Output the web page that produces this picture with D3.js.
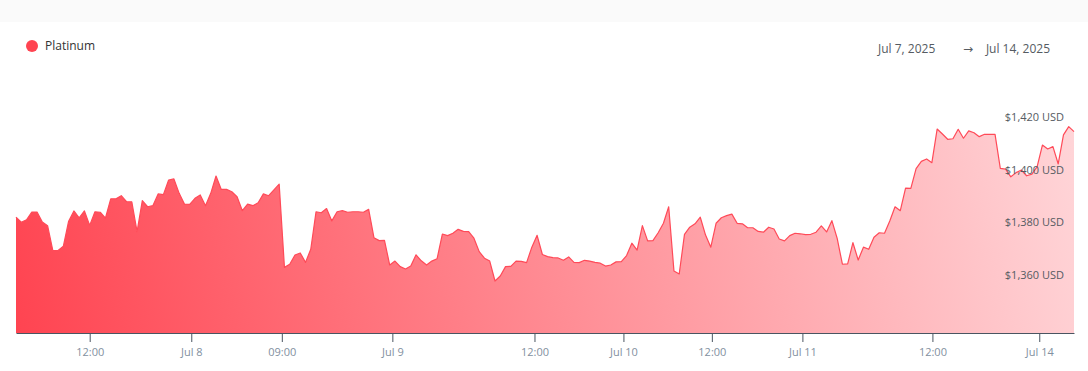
<!DOCTYPE html>
<html>
<head>
<meta charset="utf-8">
<script src="https://cdn.jsdelivr.net/npm/d3@7"></script>
<style>
  body { margin: 0; background: #fff; font-family: "Open Sans", sans-serif; }
  .tick line { stroke: #4a5561; }
  .domain { stroke: #4a5561; }
</style>
</head>
<body>
<script>
var width = 1088;
var height = 371;

var seriesName = 'Platinum';
var startLabel = 'Jul 7, 2025';
var endLabel = 'Jul 14, 2025';

// one value per sample, samples sit at even steps on the x axis
var prices = [
  1382.0, 1380.1, 1381.0, 1384.0, 1384.0, 1380.2, 1378.8, 1369.3, 1369.3, 1371.0,
  1380.5, 1384.4, 1381.8, 1384.4, 1378.9, 1384.1, 1383.9, 1381.7, 1389.0, 1389.0,
  1390.2, 1387.9, 1387.9, 1376.5, 1388.3, 1386.0, 1386.4, 1390.9, 1390.6, 1396.2,
  1396.6, 1391.1, 1387.0, 1386.9, 1389.2, 1390.5, 1386.4, 1391.1, 1397.7, 1392.6,
  1392.6, 1391.7, 1389.8, 1384.5, 1387.0, 1386.4, 1387.5, 1390.9, 1390.2, 1392.4,
  1394.6, 1362.9, 1364.1, 1367.6, 1368.4, 1364.8, 1369.8, 1384.1, 1383.7, 1385.3,
  1380.6, 1384.1, 1384.5, 1383.9, 1384.1, 1384.1, 1383.9, 1385.0, 1374.2, 1373.1,
  1373.2, 1363.8, 1365.3, 1363.2, 1362.3, 1363.4, 1367.7, 1365.4, 1363.8, 1365.3,
  1366.2, 1375.6, 1375.0, 1375.9, 1377.4, 1376.6, 1376.5, 1374.0, 1368.9, 1366.4,
  1365.3, 1357.7, 1359.6, 1363.2, 1363.3, 1365.3, 1365.2, 1364.7, 1370.6, 1375.1,
  1367.8, 1367.0, 1366.6, 1366.5, 1365.6, 1366.9, 1364.8, 1364.7, 1365.6, 1365.3,
  1364.8, 1364.5, 1363.4, 1363.8, 1365.0, 1365.1, 1367.4, 1372.1, 1369.5, 1378.8,
  1373.0, 1373.1, 1376.1, 1379.7, 1386.0, 1361.5, 1360.4, 1375.5, 1378.2, 1379.5,
  1382.0, 1375.2, 1370.6, 1379.7, 1381.8, 1382.6, 1383.2, 1379.7, 1379.5, 1378.0,
  1378.0, 1376.6, 1376.3, 1378.2, 1377.5, 1373.7, 1373.0, 1375.0, 1375.9, 1375.7,
  1375.4, 1375.5, 1376.3, 1378.7, 1376.4, 1380.7, 1374.0, 1364.1, 1364.2, 1372.3,
  1365.7, 1370.6, 1369.8, 1374.4, 1376.1, 1375.9, 1380.6, 1386.0, 1384.5, 1393.1,
  1393.0, 1400.5, 1403.3, 1404.2, 1402.8, 1415.6, 1413.7, 1411.7, 1411.9, 1415.5,
  1412.1, 1414.9, 1414.2, 1412.7, 1413.6, 1413.6, 1413.6, 1400.6, 1400.3, 1397.4,
  1399.0, 1400.0, 1397.8, 1398.4, 1401.3, 1409.5, 1408.0, 1408.9, 1402.3, 1413.4,
  1416.5, 1414.6
];

// where the time labels fall, in sample steps
var tickIndex = [14, 33.3, 50.5, 71.5, 98.5, 115.4, 132.2, 149.4, 174.1, 194.4];
var tickLabels = ['12:00', 'Jul 8', '09:00', 'Jul 9', '12:00', 'Jul 10', '12:00', 'Jul 11', '12:00', 'Jul 14'];
var yTicks = [1360, 1380, 1400, 1420];

var svg = d3.select('body').append('svg')
  .attr('width', width)
  .attr('height', height);

svg.append('rect')
  .attr('width', width)
  .attr('height', 22)
  .attr('fill', '#fafafa');

var x = d3.scaleLinear()
  .domain([0, prices.length - 1])
  .range([16, 1074]);

var y = d3.scaleLinear()
  .domain([1337.9, 1420])
  .range([333, 117.5]);

var grad = svg.append('defs').append('linearGradient')
  .attr('id', 'fillGrad')
  .attr('gradientUnits', 'userSpaceOnUse')
  .attr('x1', 16).attr('y1', 333)
  .attr('x2', 1074).attr('y2', 117);
grad.append('stop').attr('offset', 0).attr('stop-color', '#ff4451');
grad.append('stop').attr('offset', 1).attr('stop-color', '#ffd5d8');

var area = d3.area()
  .x(function(d, i){ return x(i); })
  .y0(y(1337.9))
  .y1(function(d){ return y(d); });

var line = d3.line()
  .x(function(d, i){ return x(i); })
  .y(function(d){ return y(d); });

svg.append('path')
  .datum(prices)
  .attr('d', area)
  .attr('fill', 'url(#fillGrad)');

svg.append('path')
  .datum(prices)
  .attr('d', line)
  .attr('fill', 'none')
  .attr('stroke', '#ff4a58')
  .attr('stroke-width', 1.2)
  .attr('stroke-linejoin', 'round');

var xAxis = d3.axisBottom(x)
  .tickValues(tickIndex)
  .tickFormat(function(d, i){ return tickLabels[i]; })
  .tickSize(9)
  .tickSizeOuter(0)
  .tickPadding(6);

var gx = svg.append('g')
  .attr('transform', 'translate(0,333)')
  .call(xAxis);

gx.selectAll('text')
  .attr('fill', '#8290a0')
  .style('font-family', '"Open Sans", sans-serif')
  .style('font-size', '11px');

svg.selectAll('.ylabel')
  .data(yTicks)
  .enter()
  .append('text')
  .attr('class', 'ylabel')
  .attr('x', 1064)
  .attr('y', function(d){ return y(d); })
  .attr('dy', '0.35em')
  .attr('text-anchor', 'end')
  .attr('fill', '#555b62')
  .style('font-size', '11px')
  .text(function(d){ return '$' + d3.format(',')(d) + ' USD'; });

// legend
svg.append('circle')
  .attr('cx', 32)
  .attr('cy', 46)
  .attr('r', 6)
  .attr('fill', '#ff4451');

svg.append('text')
  .attr('x', 45)
  .attr('y', 46)
  .attr('dy', '0.35em')
  .attr('fill', '#333')
  .style('font-size', '12px')
  .text(seriesName);

// date range
svg.append('text')
  .attr('x', 878)
  .attr('y', 49)
  .attr('dy', '0.35em')
  .attr('fill', '#555b62')
  .style('font-size', '12px')
  .text(startLabel);

svg.append('text')
  .attr('x', 963)
  .attr('y', 49)
  .attr('dy', '0.35em')
  .attr('fill', '#555b62')
  .style('font-family', '"DejaVu Sans", sans-serif')
  .style('font-size', '12px')
  .text('\u2192');

svg.append('text')
  .attr('x', 1050)
  .attr('y', 49)
  .attr('dy', '0.35em')
  .attr('text-anchor', 'end')
  .attr('fill', '#555b62')
  .style('font-size', '12px')
  .text(endLabel);
</script>
</body>
</html>
